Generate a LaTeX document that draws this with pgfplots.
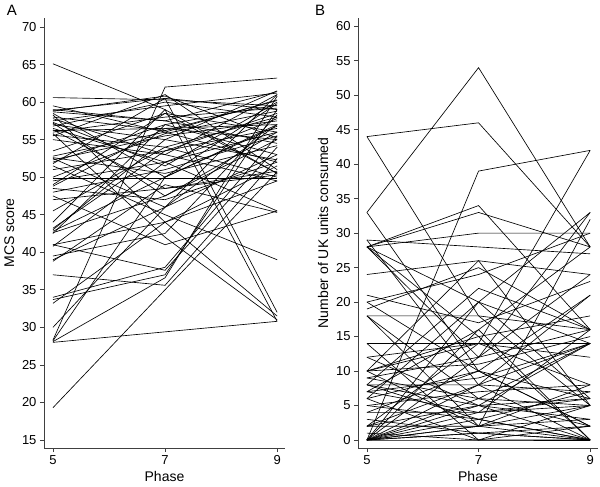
\documentclass[border=0pt]{standalone}
\usepackage{pgfplots}
\pgfplotsset{compat=1.18}
\usepackage{fontspec}
\setmainfont{Liberation Sans}
\newcommand{\fs}{\fontsize{13bp}{15bp}\selectfont}
\newcommand{\fl}{\fontsize{14bp}{16bp}\selectfont}
\pgfplotsset{
  panel/.style={
    scale only axis, axis lines=left, axis line style={-, draw=black!75, line width=0.7bp},
    tick style={draw=black!75, line width=0.7bp}, tick align=outside,
    major tick length=4bp,
    xmin=4.84, xmax=9.14, xtick={5,7,9},
    /pgf/number format/assume math mode=true,
    tick label style={font=\fs}, label style={font=\fl},
    xlabel={Phase}, ylabel shift=1bp,
    cycle list={{black,solid,mark=none}},
    every axis plot/.append style={line width=0.65bp},
    clip=false,
  }
}
\begin{document}
\begin{tikzpicture}
\useasboundingbox (0,0) rectangle (600bp,487bp);
\begin{axis}[panel, at={(44bp,39bp)}, anchor=south west, width=241bp, height=430bp,
  ymin=13.93, ymax=71.2, ytick={15,20,...,70}, ylabel={MCS score}]
\addplot coordinates {(5,65.1) (7,59.0) (9,50.5)};
\addplot coordinates {(5,60.6) (7,60.3) (9,59.5)};
\addplot coordinates {(5,59.0) (7,57.5) (9,61.4)};
\addplot coordinates {(5,58.8) (7,60.8) (9,55.2)};
\addplot coordinates {(5,58.5) (7,50.0) (9,59.8)};
\addplot coordinates {(5,58.3) (7,44.0) (9,31.5)};
\addplot coordinates {(5,58.0) (7,56.2) (9,60.2)};
\addplot coordinates {(5,57.8) (7,53.0) (9,49.5)};
\addplot coordinates {(5,57.5) (7,59.5) (9,61.2)};
\addplot coordinates {(5,57.2) (7,47.5) (9,56.0)};
\addplot coordinates {(5,57.0) (7,55.0) (9,52.3)};
\addplot coordinates {(5,56.8) (7,60.0) (9,58.0)};
\addplot coordinates {(5,56.5) (7,52.0) (9,45.5)};
\addplot coordinates {(5,56.2) (7,56.5) (9,57.0)};
\addplot coordinates {(5,56.0) (7,58.0) (9,59.2)};
\addplot coordinates {(5,55.8) (7,42.0) (9,31.0)};
\addplot coordinates {(5,55.6) (7,54.0) (9,50.0)};
\addplot coordinates {(5,55.5) (7,61.0) (9,51.0)};
\addplot coordinates {(5,52.8) (7,56.0) (9,60.3)};
\addplot coordinates {(5,52.6) (7,50.5) (9,54.2)};
\addplot coordinates {(5,52.3) (7,55.5) (9,57.5)};
\addplot coordinates {(5,52.0) (7,57.0) (9,53.0)};
\addplot coordinates {(5,51.5) (7,45.0) (9,39.0)};
\addplot coordinates {(5,51.0) (7,53.5) (9,56.5)};
\addplot coordinates {(5,50.0) (7,55.8) (9,58.8)};
\addplot coordinates {(5,49.8) (7,49.8) (9,49.8)};
\addplot coordinates {(5,49.5) (7,52.0) (9,57.8)};
\addplot coordinates {(5,49.0) (7,58.5) (9,50.5)};
\addplot coordinates {(5,48.5) (7,47.0) (9,52.0)};
\addplot coordinates {(5,48.0) (7,51.0) (9,55.5)};
\addplot coordinates {(5,47.0) (7,48.5) (9,50.3)};
\addplot coordinates {(5,45.5) (7,54.0) (9,58.0)};
\addplot coordinates {(5,43.2) (7,53.5) (9,58.5)};
\addplot coordinates {(5,43.0) (7,55.0) (9,61.5)};
\addplot coordinates {(5,42.8) (7,50.0) (9,56.8)};
\addplot coordinates {(5,42.6) (7,47.5) (9,55.0)};
\addplot coordinates {(5,42.5) (7,57.0) (9,59.6)};
\addplot coordinates {(5,41.0) (7,37.6) (9,54.0)};
\addplot coordinates {(5,41.0) (7,44.0) (9,49.5)};
\addplot coordinates {(5,40.8) (7,52.0) (9,56.0)};
\addplot coordinates {(5,39.0) (7,46.0) (9,57.0)};
\addplot coordinates {(5,38.8) (7,49.0) (9,45.3)};
\addplot coordinates {(5,37.0) (7,35.6) (9,52.5)};
\addplot coordinates {(5,34.0) (7,38.0) (9,55.5)};
\addplot coordinates {(5,33.7) (7,37.0) (9,59.0)};
\addplot coordinates {(5,33.2) (7,44.0) (9,51.5)};
\addplot coordinates {(5,30.0) (7,46.0) (9,53.0)};
\addplot coordinates {(5,28.3) (7,62.0) (9,63.2)};
\addplot coordinates {(5,28.2) (7,50.0) (9,57.0)};
\addplot coordinates {(5,28.0) (9,30.8)};
\addplot coordinates {(5,28.1) (7,36.6) (9,60.8)};
\addplot coordinates {(5,19.3) (9,50.7)};
\addplot coordinates {(5,58.9) (7,60.5) (9,32.0)};
\addplot coordinates {(5,55.0) (7,53.0) (9,61.0)};
\addplot coordinates {(5,53.5) (7,58.5) (9,56.0)};
\addplot coordinates {(5,59.5) (7,56.0) (9,52.0)};
\addplot coordinates {(5,51.8) (7,60.5) (9,59.0)};
\addplot coordinates {(5,47.5) (7,41.0) (9,45.5)};
\addplot coordinates {(5,57.3) (7,51.5) (9,60.0)};
\addplot coordinates {(5,56.3) (7,48.5) (9,50.8)};
\addplot coordinates {(5,58.7) (7,57.5) (9,54.5)};
\addplot coordinates {(5,52.5) (7,46.0) (9,61.0)};
\addplot coordinates {(5,48.8) (7,56.5) (9,55.0)};
\addplot coordinates {(5,44.0) (7,59.0) (9,30.8)};
\addplot coordinates {(5,39.5) (7,42.5) (9,58.3)};
\end{axis}
\begin{axis}[panel, at={(358bp,39bp)}, anchor=south west, width=240bp, height=430bp,
  ymin=-1.16, ymax=61.2, ytick={0,5,...,60}, ylabel={Number of UK units consumed}]
\addplot coordinates {(5,44) (7,46) (9,28)};
\addplot coordinates {(5,44) (7,18) (9,5)};
\addplot coordinates {(5,33) (7,54) (9,28)};
\addplot coordinates {(5,33) (7,10) (9,2)};
\addplot coordinates {(5,0) (7,39) (9,42)};
\addplot coordinates {(5,28) (7,34) (9,16)};
\addplot coordinates {(5,28) (7,33) (9,28)};
\addplot coordinates {(5,29) (7,28) (9,27)};
\addplot coordinates {(5,28) (7,30) (9,30)};
\addplot coordinates {(5,10) (7,14) (9,42)};
\addplot coordinates {(5,28) (7,12) (9,33)};
\addplot coordinates {(5,0) (7,20) (9,33)};
\addplot coordinates {(5,0) (7,2) (9,32)};
\addplot coordinates {(5,24) (7,26) (9,24)};
\addplot coordinates {(5,21) (7,17) (9,23)};
\addplot coordinates {(5,20) (7,10) (9,21)};
\addplot coordinates {(5,19) (7,25) (9,16)};
\addplot coordinates {(5,18) (7,18) (9,16)};
\addplot coordinates {(5,18) (7,6) (9,14)};
\addplot coordinates {(5,14) (7,14) (9,14)};
\addplot coordinates {(5,12) (7,14) (9,12)};
\addplot coordinates {(5,10) (7,11) (9,15)};
\addplot coordinates {(5,10) (7,2) (9,8)};
\addplot coordinates {(5,10) (7,15) (9,18)};
\addplot coordinates {(5,9) (7,6) (9,5)};
\addplot coordinates {(5,9) (7,12) (9,16)};
\addplot coordinates {(5,8) (7,8) (9,7)};
\addplot coordinates {(5,8) (7,3) (9,0)};
\addplot coordinates {(5,8) (7,22) (9,16)};
\addplot coordinates {(5,8) (7,5) (9,3)};
\addplot coordinates {(5,7) (7,9) (9,14)};
\addplot coordinates {(5,7) (7,4) (9,6)};
\addplot coordinates {(5,6) (7,10) (9,2)};
\addplot coordinates {(5,6) (7,0) (9,5)};
\addplot coordinates {(5,5) (7,7) (9,8)};
\addplot coordinates {(5,5) (7,3) (9,0)};
\addplot coordinates {(5,4) (7,4) (9,5)};
\addplot coordinates {(5,4) (7,10) (9,6)};
\addplot coordinates {(5,3) (7,1) (9,0)};
\addplot coordinates {(5,2) (7,5) (9,14)};
\addplot coordinates {(5,2) (7,2) (9,3)};
\addplot coordinates {(5,2) (7,8) (9,21)};
\addplot coordinates {(5,1) (7,0) (9,0)};
\addplot coordinates {(5,0) (7,0) (9,0)};
\addplot coordinates {(5,0) (7,1) (9,0)};
\addplot coordinates {(5,0) (7,4) (9,16)};
\addplot coordinates {(5,0) (7,6) (9,2)};
\addplot coordinates {(5,0) (7,12) (9,24)};
\addplot coordinates {(5,0) (7,16) (9,28)};
\addplot coordinates {(5,0) (7,3) (9,7)};
\addplot coordinates {(5,0) (7,8) (9,14)};
\addplot coordinates {(5,0) (7,2) (9,5)};
\addplot coordinates {(5,0) (7,1) (9,2)};
\addplot coordinates {(5,0) (7,5) (9,6)};
\addplot coordinates {(5,28) (7,15) (9,0)};
\addplot coordinates {(5,28) (7,20) (9,6)};
\addplot coordinates {(5,29) (7,8) (9,0)};
\addplot coordinates {(5,18) (7,2) (9,0)};
\addplot coordinates {(5,14) (7,0) (9,2)};
\addplot coordinates {(5,20) (7,24) (9,30)};
\addplot coordinates {(5,10) (7,26) (9,5)};
\addplot coordinates {(5,2) (7,14) (9,8)};
\addplot coordinates {(5,7) (7,16) (9,0)};
\addplot coordinates {(5,12) (7,5) (9,0)};
\addplot coordinates {(5,6) (7,20) (9,14)};
\end{axis}
\node[font=\fontsize{15bp}{17bp}\selectfont, anchor=center] at (12bp,477bp) {A};
\node[font=\fontsize{15bp}{17bp}\selectfont, anchor=center] at (320bp,477bp) {B};
\end{tikzpicture}
\end{document}
